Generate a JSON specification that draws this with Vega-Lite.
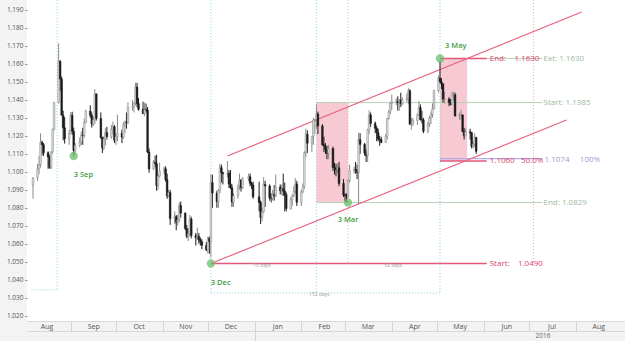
{
  "$schema": "https://vega.github.io/schema/vega-lite/v6.json",
  "width": 598,
  "height": 321,
  "autosize": {"type": "none"},
  "padding": {"left": 27, "top": 0, "right": 0, "bottom": 20},
  "background": "#f3f3f3",
  "view": {"fill": "white", "stroke": null},
  "config": {
    "font": "Open Sans",
    "axis": {"labelFont": "Open Sans", "title": null, "grid": false},
    "text": {"font": "Open Sans"}
  },
  "datasets": {
    "ohlc": [
      {"d":"2015-08-07","o":1.0924,"h":1.0970,"l":1.0850,"c":1.0967},
      {"d":"2015-08-10","o":1.0967,"h":1.1043,"l":1.0950,"c":1.1016},
      {"d":"2015-08-11","o":1.1016,"h":1.1088,"l":1.0986,"c":1.1041},
      {"d":"2015-08-12","o":1.1041,"h":1.1214,"l":1.1024,"c":1.1164},
      {"d":"2015-08-13","o":1.1164,"h":1.1173,"l":1.1092,"c":1.1151},
      {"d":"2015-08-14","o":1.1151,"h":1.1160,"l":1.1088,"c":1.1106},
      {"d":"2015-08-17","o":1.1106,"h":1.1114,"l":1.1017,"c":1.1083},
      {"d":"2015-08-18","o":1.1083,"h":1.1094,"l":1.1017,"c":1.1024},
      {"d":"2015-08-19","o":1.1024,"h":1.1113,"l":1.1015,"c":1.1111},
      {"d":"2015-08-20","o":1.1111,"h":1.1240,"l":1.1102,"c":1.1237},
      {"d":"2015-08-21","o":1.1237,"h":1.1390,"l":1.1230,"c":1.1385},
      {"d":"2015-08-24","o":1.1385,"h":1.1714,"l":1.1380,"c":1.1615},
      {"d":"2015-08-25","o":1.1615,"h":1.1620,"l":1.1450,"c":1.1516},
      {"d":"2015-08-26","o":1.1516,"h":1.1530,"l":1.1314,"c":1.1315},
      {"d":"2015-08-27","o":1.1315,"h":1.1340,"l":1.1175,"c":1.1245},
      {"d":"2015-08-28","o":1.1245,"h":1.1305,"l":1.1157,"c":1.1184},
      {"d":"2015-08-31","o":1.1184,"h":1.1233,"l":1.1150,"c":1.1213},
      {"d":"2015-09-01","o":1.1213,"h":1.1332,"l":1.1210,"c":1.1315},
      {"d":"2015-09-02","o":1.1315,"h":1.1334,"l":1.1206,"c":1.1225},
      {"d":"2015-09-03","o":1.1225,"h":1.1246,"l":1.1087,"c":1.1120},
      {"d":"2015-09-04","o":1.1120,"h":1.1160,"l":1.1102,"c":1.1147},
      {"d":"2015-09-07","o":1.1147,"h":1.1190,"l":1.1137,"c":1.1166},
      {"d":"2015-09-08","o":1.1166,"h":1.1225,"l":1.1150,"c":1.1204},
      {"d":"2015-09-09","o":1.1204,"h":1.1245,"l":1.1150,"c":1.1202},
      {"d":"2015-09-10","o":1.1202,"h":1.1296,"l":1.1190,"c":1.1275},
      {"d":"2015-09-11","o":1.1275,"h":1.1345,"l":1.1270,"c":1.1338},
      {"d":"2015-09-14","o":1.1338,"h":1.1370,"l":1.1300,"c":1.1315},
      {"d":"2015-09-15","o":1.1315,"h":1.1330,"l":1.1246,"c":1.1266},
      {"d":"2015-09-16","o":1.1266,"h":1.1305,"l":1.1255,"c":1.1289},
      {"d":"2015-09-17","o":1.1289,"h":1.1460,"l":1.1266,"c":1.1433},
      {"d":"2015-09-18","o":1.1433,"h":1.1436,"l":1.1285,"c":1.1297},
      {"d":"2015-09-21","o":1.1297,"h":1.1330,"l":1.1185,"c":1.1190},
      {"d":"2015-09-22","o":1.1190,"h":1.1195,"l":1.1105,"c":1.1133},
      {"d":"2015-09-23","o":1.1133,"h":1.1200,"l":1.1120,"c":1.1182},
      {"d":"2015-09-24","o":1.1182,"h":1.1243,"l":1.1147,"c":1.1218},
      {"d":"2015-09-25","o":1.1218,"h":1.1250,"l":1.1180,"c":1.1195},
      {"d":"2015-09-28","o":1.1195,"h":1.1260,"l":1.1185,"c":1.1236},
      {"d":"2015-09-29","o":1.1236,"h":1.1280,"l":1.1210,"c":1.1251},
      {"d":"2015-09-30","o":1.1251,"h":1.1260,"l":1.1160,"c":1.1176},
      {"d":"2015-10-01","o":1.1176,"h":1.1210,"l":1.1150,"c":1.1196},
      {"d":"2015-10-02","o":1.1196,"h":1.1318,"l":1.1170,"c":1.1215},
      {"d":"2015-10-05","o":1.1215,"h":1.1235,"l":1.1160,"c":1.1193},
      {"d":"2015-10-06","o":1.1193,"h":1.1275,"l":1.1185,"c":1.1262},
      {"d":"2015-10-07","o":1.1262,"h":1.1285,"l":1.1215,"c":1.1277},
      {"d":"2015-10-08","o":1.1277,"h":1.1330,"l":1.1240,"c":1.1275},
      {"d":"2015-10-09","o":1.1275,"h":1.1387,"l":1.1265,"c":1.1358},
      {"d":"2015-10-12","o":1.1358,"h":1.1400,"l":1.1340,"c":1.1360},
      {"d":"2015-10-13","o":1.1360,"h":1.1390,"l":1.1330,"c":1.1380},
      {"d":"2015-10-14","o":1.1380,"h":1.1495,"l":1.1370,"c":1.1472},
      {"d":"2015-10-15","o":1.1472,"h":1.1495,"l":1.1360,"c":1.1380},
      {"d":"2015-10-16","o":1.1380,"h":1.1410,"l":1.1340,"c":1.1348},
      {"d":"2015-10-19","o":1.1348,"h":1.1390,"l":1.1320,"c":1.1325},
      {"d":"2015-10-20","o":1.1325,"h":1.1385,"l":1.1310,"c":1.1345},
      {"d":"2015-10-21","o":1.1345,"h":1.1380,"l":1.1330,"c":1.1344},
      {"d":"2015-10-22","o":1.1344,"h":1.1360,"l":1.1105,"c":1.1110},
      {"d":"2015-10-23","o":1.1110,"h":1.1130,"l":1.0995,"c":1.1016},
      {"d":"2015-10-26","o":1.1016,"h":1.1065,"l":1.1010,"c":1.1054},
      {"d":"2015-10-27","o":1.1054,"h":1.1090,"l":1.1025,"c":1.1046},
      {"d":"2015-10-28","o":1.1046,"h":1.1095,"l":1.0895,"c":1.0924},
      {"d":"2015-10-29","o":1.0924,"h":1.0990,"l":1.0900,"c":1.0977},
      {"d":"2015-10-30","o":1.0977,"h":1.1050,"l":1.0970,"c":1.1004},
      {"d":"2015-11-02","o":1.1004,"h":1.1030,"l":1.0985,"c":1.1017},
      {"d":"2015-11-03","o":1.1017,"h":1.1030,"l":1.0945,"c":1.0957},
      {"d":"2015-11-04","o":1.0957,"h":1.0990,"l":1.0850,"c":1.0865},
      {"d":"2015-11-05","o":1.0865,"h":1.0900,"l":1.0860,"c":1.0885},
      {"d":"2015-11-06","o":1.0885,"h":1.0900,"l":1.0705,"c":1.0740},
      {"d":"2015-11-09","o":1.0740,"h":1.0780,"l":1.0710,"c":1.0751},
      {"d":"2015-11-10","o":1.0751,"h":1.0760,"l":1.0675,"c":1.0720},
      {"d":"2015-11-11","o":1.0720,"h":1.0760,"l":1.0700,"c":1.0732},
      {"d":"2015-11-12","o":1.0732,"h":1.0830,"l":1.0720,"c":1.0813},
      {"d":"2015-11-13","o":1.0813,"h":1.0835,"l":1.0745,"c":1.0770},
      {"d":"2015-11-16","o":1.0770,"h":1.0775,"l":1.0675,"c":1.0685},
      {"d":"2015-11-17","o":1.0685,"h":1.0705,"l":1.0630,"c":1.0642},
      {"d":"2015-11-18","o":1.0642,"h":1.0685,"l":1.0615,"c":1.0655},
      {"d":"2015-11-19","o":1.0655,"h":1.0760,"l":1.0640,"c":1.0737},
      {"d":"2015-11-20","o":1.0737,"h":1.0750,"l":1.0630,"c":1.0646},
      {"d":"2015-11-23","o":1.0646,"h":1.0660,"l":1.0590,"c":1.0633},
      {"d":"2015-11-24","o":1.0633,"h":1.0690,"l":1.0620,"c":1.0642},
      {"d":"2015-11-25","o":1.0642,"h":1.0660,"l":1.0600,"c":1.0623},
      {"d":"2015-11-26","o":1.0623,"h":1.0635,"l":1.0590,"c":1.0611},
      {"d":"2015-11-27","o":1.0611,"h":1.0625,"l":1.0570,"c":1.0592},
      {"d":"2015-11-30","o":1.0592,"h":1.0610,"l":1.0560,"c":1.0565},
      {"d":"2015-12-01","o":1.0565,"h":1.0640,"l":1.0545,"c":1.0631},
      {"d":"2015-12-02","o":1.0631,"h":1.0640,"l":1.0545,"c":1.0612},
      {"d":"2015-12-03","o":1.0612,"h":1.0985,"l":1.0524,"c":1.0940},
      {"d":"2015-12-04","o":1.0940,"h":1.0985,"l":1.0800,"c":1.0882},
      {"d":"2015-12-07","o":1.0882,"h":1.0895,"l":1.0800,"c":1.0835},
      {"d":"2015-12-08","o":1.0835,"h":1.0905,"l":1.0800,"c":1.0896},
      {"d":"2015-12-09","o":1.0896,"h":1.1045,"l":1.0880,"c":1.1023},
      {"d":"2015-12-10","o":1.1023,"h":1.1040,"l":1.0940,"c":1.0995},
      {"d":"2015-12-11","o":1.0995,"h":1.1000,"l":1.0930,"c":1.0990},
      {"d":"2015-12-14","o":1.0990,"h":1.1060,"l":1.0970,"c":1.0993},
      {"d":"2015-12-15","o":1.0993,"h":1.1010,"l":1.0910,"c":1.0933},
      {"d":"2015-12-16","o":1.0933,"h":1.1010,"l":1.0905,"c":1.0912},
      {"d":"2015-12-17","o":1.0912,"h":1.0930,"l":1.0805,"c":1.0832},
      {"d":"2015-12-18","o":1.0832,"h":1.0880,"l":1.0805,"c":1.0866},
      {"d":"2015-12-21","o":1.0866,"h":1.0930,"l":1.0850,"c":1.0918},
      {"d":"2015-12-22","o":1.0918,"h":1.0990,"l":1.0900,"c":1.0954},
      {"d":"2015-12-23","o":1.0954,"h":1.0960,"l":1.0890,"c":1.0912},
      {"d":"2015-12-24","o":1.0912,"h":1.0970,"l":1.0905,"c":1.0961},
      {"d":"2015-12-28","o":1.0961,"h":1.0990,"l":1.0950,"c":1.0973},
      {"d":"2015-12-29","o":1.0973,"h":1.0990,"l":1.0920,"c":1.0937},
      {"d":"2015-12-30","o":1.0937,"h":1.0945,"l":1.0905,"c":1.0927},
      {"d":"2015-12-31","o":1.0927,"h":1.0945,"l":1.0850,"c":1.0861},
      {"d":"2016-01-04","o":1.0861,"h":1.0945,"l":1.0780,"c":1.0830},
      {"d":"2016-01-05","o":1.0830,"h":1.0840,"l":1.0710,"c":1.0747},
      {"d":"2016-01-06","o":1.0747,"h":1.0800,"l":1.0725,"c":1.0777},
      {"d":"2016-01-07","o":1.0777,"h":1.0970,"l":1.0770,"c":1.0930},
      {"d":"2016-01-08","o":1.0930,"h":1.0950,"l":1.0805,"c":1.0921},
      {"d":"2016-01-11","o":1.0921,"h":1.0930,"l":1.0840,"c":1.0856},
      {"d":"2016-01-12","o":1.0856,"h":1.0880,"l":1.0830,"c":1.0852},
      {"d":"2016-01-13","o":1.0852,"h":1.0900,"l":1.0840,"c":1.0876},
      {"d":"2016-01-14","o":1.0876,"h":1.0925,"l":1.0840,"c":1.0865},
      {"d":"2016-01-15","o":1.0865,"h":1.0985,"l":1.0860,"c":1.0915},
      {"d":"2016-01-18","o":1.0915,"h":1.0930,"l":1.0875,"c":1.0895},
      {"d":"2016-01-19","o":1.0895,"h":1.0930,"l":1.0870,"c":1.0906},
      {"d":"2016-01-20","o":1.0906,"h":1.0990,"l":1.0865,"c":1.0893},
      {"d":"2016-01-21","o":1.0893,"h":1.0940,"l":1.0780,"c":1.0873},
      {"d":"2016-01-22","o":1.0873,"h":1.0885,"l":1.0780,"c":1.0796},
      {"d":"2016-01-25","o":1.0796,"h":1.0860,"l":1.0790,"c":1.0845},
      {"d":"2016-01-26","o":1.0845,"h":1.0875,"l":1.0810,"c":1.0867},
      {"d":"2016-01-27","o":1.0867,"h":1.0920,"l":1.0860,"c":1.0893},
      {"d":"2016-01-28","o":1.0893,"h":1.0965,"l":1.0880,"c":1.0933},
      {"d":"2016-01-29","o":1.0933,"h":1.0950,"l":1.0810,"c":1.0831},
      {"d":"2016-02-01","o":1.0831,"h":1.0900,"l":1.0810,"c":1.0889},
      {"d":"2016-02-02","o":1.0889,"h":1.0935,"l":1.0880,"c":1.0918},
      {"d":"2016-02-03","o":1.0918,"h":1.1115,"l":1.0905,"c":1.1105},
      {"d":"2016-02-04","o":1.1105,"h":1.1240,"l":1.1080,"c":1.1208},
      {"d":"2016-02-05","o":1.1208,"h":1.1230,"l":1.1105,"c":1.1159},
      {"d":"2016-02-08","o":1.1159,"h":1.1200,"l":1.1110,"c":1.1195},
      {"d":"2016-02-09","o":1.1195,"h":1.1300,"l":1.1150,"c":1.1288},
      {"d":"2016-02-10","o":1.1288,"h":1.1295,"l":1.1210,"c":1.1290},
      {"d":"2016-02-11","o":1.1290,"h":1.1376,"l":1.1240,"c":1.1322},
      {"d":"2016-02-12","o":1.1322,"h":1.1335,"l":1.1210,"c":1.1255},
      {"d":"2016-02-15","o":1.1255,"h":1.1265,"l":1.1145,"c":1.1150},
      {"d":"2016-02-16","o":1.1150,"h":1.1195,"l":1.1110,"c":1.1143},
      {"d":"2016-02-17","o":1.1143,"h":1.1160,"l":1.1100,"c":1.1123},
      {"d":"2016-02-18","o":1.1123,"h":1.1145,"l":1.1070,"c":1.1103},
      {"d":"2016-02-19","o":1.1103,"h":1.1150,"l":1.1070,"c":1.1130},
      {"d":"2016-02-22","o":1.1130,"h":1.1140,"l":1.1005,"c":1.1024},
      {"d":"2016-02-23","o":1.1024,"h":1.1050,"l":1.0985,"c":1.1021},
      {"d":"2016-02-24","o":1.1021,"h":1.1045,"l":1.0975,"c":1.1012},
      {"d":"2016-02-25","o":1.1012,"h":1.1045,"l":1.0995,"c":1.1023},
      {"d":"2016-02-26","o":1.1023,"h":1.1055,"l":1.0920,"c":1.0935},
      {"d":"2016-02-29","o":1.0935,"h":1.0960,"l":1.0860,"c":1.0872},
      {"d":"2016-03-01","o":1.0872,"h":1.0880,"l":1.0836,"c":1.0867},
      {"d":"2016-03-02","o":1.0867,"h":1.0880,"l":1.0830,"c":1.0866},
      {"d":"2016-03-03","o":1.0866,"h":1.0960,"l":1.0855,"c":1.0953},
      {"d":"2016-03-04","o":1.0953,"h":1.1040,"l":1.0940,"c":1.1007},
      {"d":"2016-03-07","o":1.1007,"h":1.1030,"l":1.0990,"c":1.1013},
      {"d":"2016-03-08","o":1.1013,"h":1.1055,"l":1.0990,"c":1.1011},
      {"d":"2016-03-09","o":1.1011,"h":1.1040,"l":1.0960,"c":1.0996},
      {"d":"2016-03-10","o":1.0996,"h":1.1218,"l":1.0822,"c":1.1180},
      {"d":"2016-03-11","o":1.1180,"h":1.1215,"l":1.1100,"c":1.1152},
      {"d":"2016-03-14","o":1.1152,"h":1.1160,"l":1.1090,"c":1.1105},
      {"d":"2016-03-15","o":1.1105,"h":1.1125,"l":1.1055,"c":1.1090},
      {"d":"2016-03-16","o":1.1090,"h":1.1240,"l":1.1055,"c":1.1233},
      {"d":"2016-03-17","o":1.1233,"h":1.1342,"l":1.1210,"c":1.1316},
      {"d":"2016-03-18","o":1.1316,"h":1.1330,"l":1.1250,"c":1.1269},
      {"d":"2016-03-21","o":1.1269,"h":1.1280,"l":1.1215,"c":1.1242},
      {"d":"2016-03-22","o":1.1242,"h":1.1255,"l":1.1170,"c":1.1219},
      {"d":"2016-03-23","o":1.1219,"h":1.1240,"l":1.1170,"c":1.1182},
      {"d":"2016-03-24","o":1.1182,"h":1.1200,"l":1.1145,"c":1.1180},
      {"d":"2016-03-25","o":1.1180,"h":1.1195,"l":1.1160,"c":1.1163},
      {"d":"2016-03-28","o":1.1163,"h":1.1210,"l":1.1160,"c":1.1195},
      {"d":"2016-03-29","o":1.1195,"h":1.1300,"l":1.1180,"c":1.1296},
      {"d":"2016-03-30","o":1.1296,"h":1.1345,"l":1.1290,"c":1.1333},
      {"d":"2016-03-31","o":1.1333,"h":1.1390,"l":1.1320,"c":1.1380},
      {"d":"2016-04-01","o":1.1380,"h":1.1430,"l":1.1345,"c":1.1389},
      {"d":"2016-04-04","o":1.1389,"h":1.1410,"l":1.1370,"c":1.1392},
      {"d":"2016-04-05","o":1.1392,"h":1.1420,"l":1.1340,"c":1.1386},
      {"d":"2016-04-06","o":1.1386,"h":1.1405,"l":1.1340,"c":1.1400},
      {"d":"2016-04-07","o":1.1400,"h":1.1440,"l":1.1360,"c":1.1379},
      {"d":"2016-04-08","o":1.1379,"h":1.1415,"l":1.1370,"c":1.1400},
      {"d":"2016-04-11","o":1.1400,"h":1.1435,"l":1.1390,"c":1.1406},
      {"d":"2016-04-12","o":1.1406,"h":1.1465,"l":1.1375,"c":1.1450},
      {"d":"2016-04-13","o":1.1450,"h":1.1460,"l":1.1260,"c":1.1265},
      {"d":"2016-04-14","o":1.1265,"h":1.1300,"l":1.1235,"c":1.1269},
      {"d":"2016-04-15","o":1.1269,"h":1.1300,"l":1.1255,"c":1.1286},
      {"d":"2016-04-18","o":1.1286,"h":1.1325,"l":1.1260,"c":1.1316},
      {"d":"2016-04-19","o":1.1316,"h":1.1395,"l":1.1310,"c":1.1357},
      {"d":"2016-04-20","o":1.1357,"h":1.1375,"l":1.1285,"c":1.1290},
      {"d":"2016-04-21","o":1.1290,"h":1.1340,"l":1.1270,"c":1.1289},
      {"d":"2016-04-22","o":1.1289,"h":1.1300,"l":1.1215,"c":1.1226},
      {"d":"2016-04-25","o":1.1226,"h":1.1280,"l":1.1215,"c":1.1266},
      {"d":"2016-04-26","o":1.1266,"h":1.1310,"l":1.1250,"c":1.1300},
      {"d":"2016-04-27","o":1.1300,"h":1.1335,"l":1.1265,"c":1.1318},
      {"d":"2016-04-28","o":1.1318,"h":1.1380,"l":1.1300,"c":1.1351},
      {"d":"2016-04-29","o":1.1351,"h":1.1455,"l":1.1345,"c":1.1453},
      {"d":"2016-05-02","o":1.1453,"h":1.1535,"l":1.1440,"c":1.1522},
      {"d":"2016-05-03","o":1.1522,"h":1.1616,"l":1.1490,"c":1.1500},
      {"d":"2016-05-04","o":1.1500,"h":1.1520,"l":1.1460,"c":1.1490},
      {"d":"2016-05-05","o":1.1490,"h":1.1490,"l":1.1385,"c":1.1403},
      {"d":"2016-05-06","o":1.1403,"h":1.1445,"l":1.1380,"c":1.1405},
      {"d":"2016-05-09","o":1.1405,"h":1.1415,"l":1.1365,"c":1.1385},
      {"d":"2016-05-10","o":1.1385,"h":1.1405,"l":1.1370,"c":1.1375},
      {"d":"2016-05-11","o":1.1375,"h":1.1445,"l":1.1370,"c":1.1427},
      {"d":"2016-05-12","o":1.1427,"h":1.1445,"l":1.1395,"c":1.1429},
      {"d":"2016-05-13","o":1.1429,"h":1.1440,"l":1.1308,"c":1.1310},
      {"d":"2016-05-16","o":1.1310,"h":1.1330,"l":1.1290,"c":1.1313},
      {"d":"2016-05-17","o":1.1313,"h":1.1345,"l":1.1290,"c":1.1316},
      {"d":"2016-05-18","o":1.1316,"h":1.1320,"l":1.1220,"c":1.1225},
      {"d":"2016-05-19","o":1.1225,"h":1.1245,"l":1.1180,"c":1.1200},
      {"d":"2016-05-20","o":1.1200,"h":1.1240,"l":1.1200,"c":1.1223},
      {"d":"2016-05-23","o":1.1223,"h":1.1240,"l":1.1180,"c":1.1218},
      {"d":"2016-05-24","o":1.1218,"h":1.1222,"l":1.1130,"c":1.1141},
      {"d":"2016-05-25","o":1.1141,"h":1.1170,"l":1.1130,"c":1.1153},
      {"d":"2016-05-26","o":1.1153,"h":1.1215,"l":1.1140,"c":1.1191},
      {"d":"2016-05-27","o":1.1191,"h":1.1195,"l":1.1100,"c":1.1114}
    ],
    "boxes": [
      {"d":"2016-02-11","d2":"2016-03-03","p":1.1385,"p2":1.0829},
      {"d":"2016-05-03","d2":"2016-05-21","p":1.1630,"p2":1.1060}
    ],
    "levels": [
      {"kind":"range","d":"2016-02-11","d2":"2016-07-10","p":1.1385},
      {"kind":"range","d":"2016-02-11","d2":"2016-07-10","p":1.0829},
      {"kind":"range","d":"2016-05-03","d2":"2016-07-10","p":1.1630},
      {"kind":"fib","d":"2016-05-03","d2":"2016-07-10","p":1.1074},
      {"kind":"target","d":"2016-05-03","d2":"2016-06-03","p":1.1630},
      {"kind":"target","d":"2016-05-03","d2":"2016-06-03","p":1.1060},
      {"kind":"target","d":"2015-12-03","d2":"2016-06-03","p":1.0490}
    ],
    "markers": [
      {"kind":"time","d":"2015-08-23","p":1.1955,"p2":1.0343},
      {"kind":"time","d":"2015-12-03","p":1.1955,"p2":1.0326},
      {"kind":"time","d":"2016-02-11","p":1.1955,"p2":1.0326},
      {"kind":"time","d":"2016-05-03","p":1.1955,"p2":1.0326},
      {"kind":"cycle","d":"2016-03-03","p":1.1955,"p2":1.0490},
      {"kind":"cycle","d":"2016-07-04","p":1.1955,"p2":1.0490}
    ],
    "spans": [
      {"d":"2015-08-06","d2":"2015-08-23","p":1.0343},
      {"d":"2015-12-03","d2":"2016-05-03","p":1.0326}
    ],
    "channel": [
      {"ch":"upper","d":"2015-12-14","p":1.1088},
      {"ch":"upper","d":"2016-08-05","p":1.1889},
      {"ch":"lower","d":"2015-12-03","p":1.0490},
      {"ch":"lower","d":"2016-07-26","p":1.1288}
    ],
    "pivots": [
      {"name":"3 Sep","d":"2015-09-03","p":1.1088},
      {"name":"3 Dec","d":"2015-12-03","p":1.0490},
      {"name":"3 Mar","d":"2016-03-03","p":1.0829},
      {"name":"3 May","d":"2016-05-03","p":1.1630}
    ],
    "tags": [
      {"kind":"target","d":"2016-06-03","p":1.1630,"t":"End:\u00a0\u00a0\u00a0\u00a01.1630"},
      {"kind":"target","d":"2016-06-03","p":1.1060,"t":"1.1060\u00a0\u00a0\u00a050.0%"},
      {"kind":"target","d":"2016-06-03","p":1.0490,"t":"Start:\u00a0\u00a0\u00a0\u00a01.0490"},
      {"kind":"range","d":"2016-07-10","p":1.1630,"t":"Ext: 1.1630"},
      {"kind":"range","d":"2016-07-10","p":1.1385,"t":"Start: 1.1385"},
      {"kind":"range","d":"2016-07-10","p":1.0829,"t":"End: 1.0829"},
      {"kind":"fib","d":"2016-07-10","p":1.1074,"t":"1.1074\u00a0\u00a0\u00a0\u00a0\u00a0100%"}
    ],
    "counts": [
      {"d":"2016-01-06","p":1.0490,"t":"70 days"},
      {"d":"2016-04-02","p":1.0490,"t":"62 days"},
      {"d":"2016-02-13","p":1.0326,"t":"152 days"}
    ]
  },
  "encoding": {
    "x": {
      "field": "d",
      "type": "temporal",
      "axis": null,
      "scale": {
        "nice": false,
        "domain": [
          {"year":2015,"month":8,"date":6,"hours":8},
          {"year":2016,"month":8,"date":30,"hours":10}
        ]
      }
    },
    "y": {
      "field": "p",
      "type": "quantitative",
      "axis": null,
      "scale": {"domain": [1.01705, 1.19556], "nice": false, "zero": false}
    }
  },
  "resolve": {"axis": {"x": "independent", "y": "independent"}},
  "layer": [
    {
      "data": {"name": "boxes"},
      "mark": {"type": "rect", "fill": "#f6bfca", "opacity": 0.85},
      "encoding": {
        "x": {
          "field": "d", "type": "temporal",
          "axis": {
            "orient": "bottom", "offset": 10,
            "values": [{"year":2016,"month":1,"date":1}],
            "labels": false, "tickSize": 10, "tickColor": "#d4d4d4",
            "domain": true, "domainColor": "#d8d8d8"
          }
        },
        "x2": {"field": "d2"},
        "y2": {"field": "p2"}
      }
    },
    {
      "data": {"name": "levels"},
      "transform": [{"filter": "datum.kind == 'range'"}],
      "mark": {"type": "rule", "color": "#b3d1b3", "strokeWidth": 1},
      "encoding": {"x2": {"field": "d2"}}
    },
    {
      "data": {"name": "levels"},
      "transform": [{"filter": "datum.kind == 'fib'"}],
      "mark": {"type": "rule", "color": "#b4acea", "strokeWidth": 1.2},
      "encoding": {"x2": {"field": "d2"}}
    },
    {
      "data": {"name": "levels"},
      "transform": [{"filter": "datum.kind == 'target'"}],
      "mark": {"type": "rule", "color": "#e2587a", "strokeWidth": 1.6},
      "encoding": {"x2": {"field": "d2"}}
    },
    {
      "data": {"name": "markers"},
      "transform": [{"filter": "datum.kind == 'time'"}],
      "mark": {"type": "rule", "color": "#86d4de", "strokeWidth": 1, "strokeDash": [1, 2]},
      "encoding": {"y2": {"field": "p2"}}
    },
    {
      "data": {"name": "markers"},
      "transform": [{"filter": "datum.kind == 'cycle'"}],
      "mark": {"type": "rule", "color": "#f2a6b6", "strokeWidth": 1, "strokeDash": [1, 2]},
      "encoding": {"y2": {"field": "p2"}}
    },
    {
      "data": {"name": "spans"},
      "mark": {"type": "rule", "color": "#86d4de", "strokeWidth": 1, "strokeDash": [1, 2]},
      "encoding": {"x2": {"field": "d2"}}
    },
    {
      "data": {"name": "channel"},
      "mark": {"type": "line", "color": "#e9647f", "strokeWidth": 1.2},
      "encoding": {
        "x": {
          "field": "d", "type": "temporal",
          "axis": {
            "orient": "bottom", "offset": 10,
            "values": [{"year":2016,"month":7,"date":10}],
            "format": "%Y", "ticks": false, "tickSize": 0, "domain": false,
            "labelFontSize": 6.5, "labelColor": "#666", "labelPadding": 1
          }
        },
        "detail": {"field": "ch"}
      }
    },
    {
      "data": {"name": "ohlc"},
      "mark": {"type": "rule", "strokeWidth": 1},
      "encoding": {
        "x": {
          "field": "d", "type": "temporal",
          "axis": {
            "orient": "bottom",
            "values": [
              {"year":2015,"month":9,"date":1},
              {"year":2015,"month":10,"date":1},
              {"year":2015,"month":11,"date":1},
              {"year":2015,"month":12,"date":1},
              {"year":2016,"month":1,"date":1},
              {"year":2016,"month":2,"date":1},
              {"year":2016,"month":3,"date":1},
              {"year":2016,"month":4,"date":1},
              {"year":2016,"month":5,"date":1},
              {"year":2016,"month":6,"date":1},
              {"year":2016,"month":7,"date":1},
              {"year":2016,"month":8,"date":1}
            ],
            "labels": false, "tickSize": 10, "tickColor": "#d4d4d4",
            "domain": true, "domainColor": "#d8d8d8"
          }
        },
        "y": {
          "field": "l", "type": "quantitative",
          "axis": {
            "orient": "left",
            "values": [1.02,1.03,1.04,1.05,1.06,1.07,1.08,1.09,1.10,1.11,1.12,1.13,1.14,1.15,1.16,1.17,1.18,1.19],
            "format": ".3f", "labelFontSize": 6.5, "labelColor": "#555",
            "tickSize": 2.5, "tickColor": "#999", "labelPadding": 1.5, "domain": false
          }
        },
        "y2": {"field": "h"},
        "color": {"condition": {"test": "datum.c >= datum.o", "value": "#8a8a8a"}, "value": "#1c1c1c"}
      }
    },
    {
      "data": {"name": "ohlc"},
      "mark": {"type": "bar", "size": 1.7, "strokeWidth": 0.5},
      "encoding": {
        "x": {
          "field": "d", "type": "temporal",
          "axis": {
            "orient": "bottom",
            "values": [
              {"year":2015,"month":8,"date":16},
              {"year":2015,"month":9,"date":16},
              {"year":2015,"month":10,"date":16},
              {"year":2015,"month":11,"date":16},
              {"year":2015,"month":12,"date":16},
              {"year":2016,"month":1,"date":16},
              {"year":2016,"month":2,"date":16},
              {"year":2016,"month":3,"date":16},
              {"year":2016,"month":4,"date":16},
              {"year":2016,"month":5,"date":16},
              {"year":2016,"month":6,"date":16},
              {"year":2016,"month":7,"date":16},
              {"year":2016,"month":8,"date":16}
            ],
            "format": "%b", "ticks": false, "tickSize": 0, "domain": false,
            "labelFontSize": 7, "labelColor": "#555", "labelPadding": 1.5,
            "labelOverlap": false, "labelFlush": false
          }
        },
        "y": {"field": "o", "type": "quantitative"},
        "y2": {"field": "c"},
        "fill": {"condition": {"test": "datum.c >= datum.o", "value": "#dcdcdc"}, "value": "#1c1c1c"},
        "stroke": {"condition": {"test": "datum.c >= datum.o", "value": "#8a8a8a"}, "value": "#1c1c1c"}
      }
    },
    {
      "data": {"name": "pivots"},
      "mark": {"type": "point", "filled": true, "size": 70, "color": "#6cbd6c", "opacity": 0.75}
    },
    {
      "data": {"name": "pivots"},
      "transform": [{"filter": "datum.name == '3 Sep' || datum.name == '3 Dec'"}],
      "mark": {"type": "text", "align": "left", "baseline": "middle", "dx": 0, "dy": 19, "fontSize": 7.5, "fontWeight": 600, "color": "#3f9e3f"},
      "encoding": {"text": {"field": "name"}}
    },
    {
      "data": {"name": "pivots"},
      "transform": [{"filter": "datum.name == '3 Mar'"}],
      "mark": {"type": "text", "align": "center", "baseline": "middle", "dy": 17, "fontSize": 7.5, "fontWeight": 600, "color": "#3f9e3f"},
      "encoding": {"text": {"field": "name"}}
    },
    {
      "data": {"name": "pivots"},
      "transform": [{"filter": "datum.name == '3 May'"}],
      "mark": {"type": "text", "align": "left", "baseline": "middle", "dx": 5, "dy": -13, "fontSize": 7.5, "fontWeight": 600, "color": "#3f9e3f"},
      "encoding": {"text": {"field": "name"}}
    },
    {
      "data": {"name": "tags"},
      "transform": [{"filter": "datum.kind == 'target'"}],
      "mark": {"type": "text", "align": "left", "baseline": "middle", "dx": 3, "fontSize": 8, "color": "#d94468"},
      "encoding": {"text": {"field": "t"}}
    },
    {
      "data": {"name": "tags"},
      "transform": [{"filter": "datum.kind == 'range'"}],
      "mark": {"type": "text", "align": "left", "baseline": "middle", "dx": 1, "fontSize": 8, "color": "#9db79d"},
      "encoding": {"text": {"field": "t"}}
    },
    {
      "data": {"name": "tags"},
      "transform": [{"filter": "datum.kind == 'fib'"}],
      "mark": {"type": "text", "align": "left", "baseline": "middle", "dx": 2, "dy": 1, "fontSize": 8, "color": "#9e9ad2"},
      "encoding": {"text": {"field": "t"}}
    },
    {
      "data": {"name": "counts"},
      "mark": {"type": "text", "align": "center", "baseline": "middle", "dy": 1, "fontSize": 5, "color": "#999999"},
      "encoding": {"text": {"field": "t"}}
    }
  ]
}
